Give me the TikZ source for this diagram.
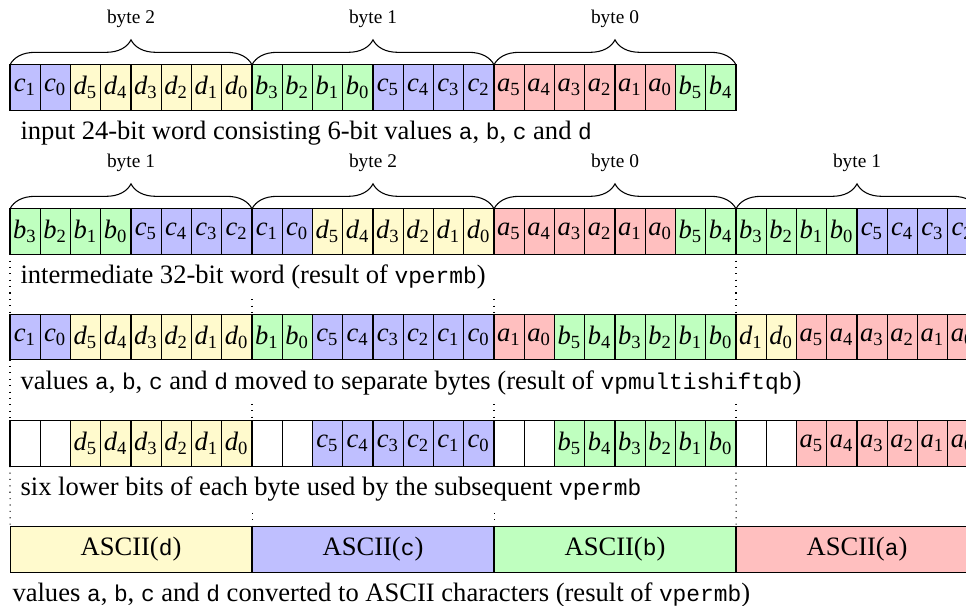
\documentclass[tikz,border=0pt]{standalone}
\usepackage{fontspec}
\setmainfont{Liberation Serif}
\setmonofont[Scale=0.86]{Liberation Mono}
\usetikzlibrary{decorations.pathreplacing,calc}

% fill colours of the four 6-bit values
\definecolor{bitA}{RGB}{255,191,191}
\definecolor{bitB}{RGB}{191,255,191}
\definecolor{bitC}{RGB}{191,191,255}
\definecolor{bitD}{RGB}{255,250,205}

% italic bit name with an upright index
\newcommand\bitlbl[2]{\textit{#1}\textsubscript{#2}}

% one row of one-bit cells: #1 name prefix, #2 vertical centre, #3 cells as name/index/colour
\newcommand\cellrow[3]{%
  \foreach \v/\s/\c [count=\i from 0] in {#3} {%
    \node[cell, fill=\c] (#1-\i) at ({10+30.25*(\i+0.5)}, #2) {\bitlbl{\v}{\s}};
  }%
}

\begin{document}
\begin{tikzpicture}[x=0.013223cm, y=-0.013223cm,
  cell/.style={draw, line width=0.4pt, minimum width=0.4cm, minimum height=0.6cm,
               inner sep=0pt, outer sep=0pt},
  asciibox/.style={draw, line width=0.4pt, minimum width=3.2cm, minimum height=0.6cm,
               inner sep=0pt, outer sep=0pt},
  bytebrace/.style={decorate, decoration={brace, amplitude=9.4pt}, line width=0.4pt},
  bytelbl/.style={font=\fontsize{7.3}{9}\selectfont, inner sep=0pt},
  caption/.style={anchor=base west, inner sep=0pt},
  guide/.style={dotted, line width=0.4pt}]

\useasboundingbox (0,0) rectangle (966,606);
\clip (0,0) rectangle (966,606);

% input 24-bit word
\cellrow{r1}{87.5}{c/1/bitC, c/0/bitC, d/5/bitD, d/4/bitD, d/3/bitD, d/2/bitD, d/1/bitD, d/0/bitD,
  b/3/bitB, b/2/bitB, b/1/bitB, b/0/bitB, c/5/bitC, c/4/bitC, c/3/bitC, c/2/bitC,
  a/5/bitA, a/4/bitA, a/3/bitA, a/2/bitA, a/1/bitA, a/0/bitA, b/5/bitB, b/4/bitB}

\draw[bytebrace] (r1-0.north west) -- (r1-7.north east);
\draw[bytebrace] (r1-8.north west) -- (r1-15.north east);
\draw[bytebrace] (r1-16.north west) -- (r1-23.north east);
\node[bytelbl] (r1-byte2) at (131,19) {byte 2};
\node[bytelbl] (r1-byte1) at (373,19) {byte 1};
\node[bytelbl] (r1-byte0) at (615,19) {byte 0};

\node[caption] (cap1) at (20,139) {input 24-bit word consisting 6-bit values \texttt{a}, \texttt{b}, \texttt{c} and \texttt{d}};

% intermediate 32-bit word
\cellrow{r2}{231.5}{b/3/bitB, b/2/bitB, b/1/bitB, b/0/bitB, c/5/bitC, c/4/bitC, c/3/bitC, c/2/bitC,
  c/1/bitC, c/0/bitC, d/5/bitD, d/4/bitD, d/3/bitD, d/2/bitD, d/1/bitD, d/0/bitD,
  a/5/bitA, a/4/bitA, a/3/bitA, a/2/bitA, a/1/bitA, a/0/bitA, b/5/bitB, b/4/bitB,
  b/3/bitB, b/2/bitB, b/1/bitB, b/0/bitB, c/5/bitC, c/4/bitC, c/3/bitC, c/2/bitC}

\draw[bytebrace] (r2-0.north west) -- (r2-7.north east);
\draw[bytebrace] (r2-8.north west) -- (r2-15.north east);
\draw[bytebrace] (r2-16.north west) -- (r2-23.north east);
\draw[bytebrace] (r2-24.north west) -- (r2-31.north east);
\node[bytelbl] (r2-byte1a) at (131,163) {byte 1};
\node[bytelbl] (r2-byte2) at (373,163) {byte 2};
\node[bytelbl] (r2-byte0) at (615,163) {byte 0};
\node[bytelbl] (r2-byte1b) at (857,163) {byte 1};

\node[caption] (cap2) at (20,283) {intermediate 32-bit word (result of \texttt{vpermb})};

% values moved to separate bytes
\cellrow{r3}{337}{c/1/bitC, c/0/bitC, d/5/bitD, d/4/bitD, d/3/bitD, d/2/bitD, d/1/bitD, d/0/bitD,
  b/1/bitB, b/0/bitB, c/5/bitC, c/4/bitC, c/3/bitC, c/2/bitC, c/1/bitC, c/0/bitC,
  a/1/bitA, a/0/bitA, b/5/bitB, b/4/bitB, b/3/bitB, b/2/bitB, b/1/bitB, b/0/bitB,
  d/1/bitD, d/0/bitD, a/5/bitA, a/4/bitA, a/3/bitA, a/2/bitA, a/1/bitA, a/0/bitA}

\node[caption] (cap3) at (20,389) {values \texttt{a}, \texttt{b}, \texttt{c} and \texttt{d} moved to separate bytes (result of \texttt{vpmultishiftqb})};

% six lower bits of each byte
\cellrow{r4}{443.5}{{}/{}/white, {}/{}/white, d/5/bitD, d/4/bitD, d/3/bitD, d/2/bitD, d/1/bitD, d/0/bitD,
  {}/{}/white, {}/{}/white, c/5/bitC, c/4/bitC, c/3/bitC, c/2/bitC, c/1/bitC, c/0/bitC,
  {}/{}/white, {}/{}/white, b/5/bitB, b/4/bitB, b/3/bitB, b/2/bitB, b/1/bitB, b/0/bitB,
  {}/{}/white, {}/{}/white, a/5/bitA, a/4/bitA, a/3/bitA, a/2/bitA, a/1/bitA, a/0/bitA}

\node[caption] (cap4) at (20,495) {six lower bits of each byte used by the subsequent \texttt{vpermb}};

% ASCII characters
\node[asciibox, fill=bitD] (asc-d) at (131,549.5) {ASCII(\texttt{d})};
\node[asciibox, fill=bitC] (asc-c) at (373,549.5) {ASCII(\texttt{c})};
\node[asciibox, fill=bitB] (asc-b) at (615,549.5) {ASCII(\texttt{b})};
\node[asciibox, fill=bitA] (asc-a) at (857,549.5) {ASCII(\texttt{a})};

\node[caption] (cap5) at (12,601) {values \texttt{a}, \texttt{b}, \texttt{c} and \texttt{d} converted to ASCII characters (result of \texttt{vpermb})};

% dotted byte boundaries between the rows
\draw[guide] (r2-0.south west) -- (r3-0.north west);
\draw[guide] (r2-24.south west) -- (r3-24.north west);
\draw[guide] ($(r3-8.north west)+(0,-15)$) -- (r3-8.north west);
\draw[guide] ($(r3-16.north west)+(0,-15)$) -- (r3-16.north west);

\draw[guide] (r3-0.south west) -- (r4-0.north west);
\draw[guide] ($(r4-8.north west)+(0,-17)$) -- (r4-8.north west);
\draw[guide] ($(r4-16.north west)+(0,-17)$) -- (r4-16.north west);
\draw[guide] ($(r4-24.north west)+(0,-17)$) -- (r4-24.north west);

\draw[guide] (r4-0.south west) -- (asc-d.north west);
\draw[guide] (r4-24.south west) -- (asc-a.north west);
\draw[guide] ($(asc-c.north west)+(0,-14)$) -- (asc-c.north west);
\draw[guide] ($(asc-b.north west)+(0,-14)$) -- (asc-b.north west);
\end{tikzpicture}
\end{document}
